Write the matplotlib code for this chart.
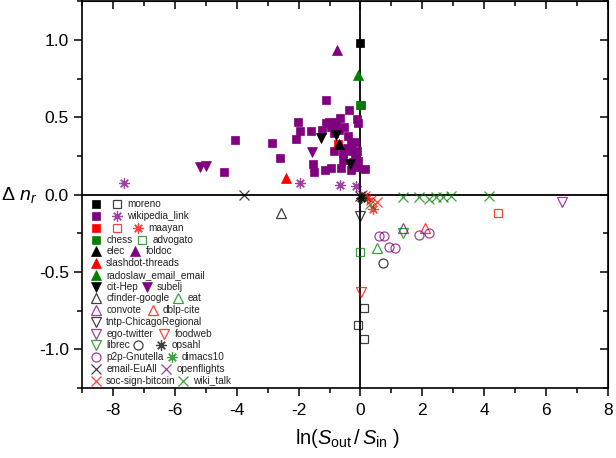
import matplotlib.pyplot as plt
from matplotlib.ticker import MultipleLocator

plt.rcParams['font.family'] = ['Liberation Sans', 'DejaVu Sans']
plt.rcParams['mathtext.fontset'] = 'custom'
plt.rcParams['mathtext.rm'] = 'Liberation Sans'
plt.rcParams['mathtext.it'] = 'Liberation Sans:italic'
plt.rcParams['axes.unicode_minus'] = False

BLACK = 'black'
PURPLE = '#800080'
RED = '#ff0000'
GREEN = '#008000'
ASTER = (8, 2, 0)

# values: x = ln(S_out / S_in), y = delta n_r
wiki_sq_x = [-4.05, -4.42, -2.87, -2.60, -2.03, -1.94, -2.07, -1.10, -1.53, -1.49,
             -1.16, -0.96, -1.60, -1.13, -0.95, -0.78, -0.65, -0.52, -0.38, -0.12,
             -0.07, 0.02, -0.84, -0.57, -0.30, -0.19, -0.30, -0.19, -0.10, -0.55,
             -0.25, -0.62, -0.30, -0.12, 0.15, -0.85, -1.25, -0.70, -0.45, -0.08,
             -0.40, -1.02, -0.88]
wiki_sq_y = [0.357, 0.145, 0.332, 0.239, 0.469, 0.413, 0.359, 0.616, 0.202, 0.146,
             0.161, 0.174, 0.411, 0.467, 0.439, 0.471, 0.499, 0.439, 0.551, 0.493,
             0.467, 0.579, 0.282, 0.267, 0.332, 0.342, 0.280, 0.260, 0.280, 0.224,
             0.213, 0.170, 0.159, 0.177, 0.164, 0.400, 0.420, 0.420, 0.300, 0.220,
             0.380, 0.470, 0.455]
wiki_ast_x = [-7.63, -1.94, -0.66, -0.16]
wiki_ast_y = [0.075, 0.078, 0.062, 0.056]

moreno_f_x, moreno_f_y = [0.0], [0.98]
moreno_o_x, moreno_o_y = [0.11, -0.09, 0.13], [-0.73, -0.845, -0.93]
maayan_f_x, maayan_f_y = [-0.73], [0.331]
maayan_o_x, maayan_o_y = [4.45], [-0.12]
maayan_ast_x, maayan_ast_y = [0.40, 0.22], [-0.09, -0.02]
chess_x, chess_y = [0.0], [0.583]
advogato_x, advogato_y = [0.0], [-0.368]
elec_x, elec_y = [-0.70], [0.327]
foldoc_x, foldoc_y = [-0.76], [0.938]
slashdot_x, slashdot_y = [-2.40], [0.106]
radoslaw_x, radoslaw_y = [-0.08], [0.772]
cithep_x, cithep_y = [-1.29, -0.78, -0.35], [0.364, 0.385, 0.196]
subelj_x, subelj_y = [-5.19, -4.98, -1.56], [0.181, 0.185, 0.278]
cfinder_x, cfinder_y = [-2.58], [-0.118]
eat_x, eat_y = [0.53], [-0.346]
convote_x, convote_y = [1.39], [-0.215]
dblp_x, dblp_y = [2.10], [-0.215]
tntp_x, tntp_y = [0.0], [-0.137]
egotw_x, egotw_y = [6.5], [-0.045]
foodweb_x, foodweb_y = [0.02], [-0.626]
librec_x, librec_y = [1.37], [-0.249]
opsahl_o_x, opsahl_o_y = [0.73], [-0.443]
opsahl_ast_x, opsahl_ast_y = [0.02], [-0.02]
p2p_x = [0.61, 0.77, 0.91, 1.10, 1.90, 2.23]
p2p_y = [-0.266, -0.266, -0.335, -0.346, -0.260, -0.245]
dimacs_x, dimacs_y = [0.05], [-0.015]
euall_x, euall_y = [-3.77, 0.0], [0.0, -0.01]
openfl_x, openfl_y = [0.05], [0.0]
bitcoin_x, bitcoin_y = [0.35, 0.52, 0.15], [-0.035, -0.045, -0.01]
wikitalk_x = [0.30, 1.37, 1.90, 2.20, 2.44, 2.68, 2.93, 4.16]
wikitalk_y = [-0.06, -0.017, -0.017, -0.03, -0.012, -0.012, -0.01, -0.005]

STYLE = {
    'sq_k': ('s', BLACK, True), 'sq_p': ('s', PURPLE, True), 'sq_r': ('s', RED, True),
    'sq_g': ('s', GREEN, True),
    'osq_k': ('s', BLACK, False), 'osq_r': ('s', RED, False), 'osq_g': ('s', GREEN, False),
    'up_k': ('^', BLACK, True), 'up_p': ('^', PURPLE, True), 'up_r': ('^', RED, True),
    'up_g': ('^', GREEN, True),
    'dn_k': ('v', BLACK, True), 'dn_p': ('v', PURPLE, True),
    'oup_k': ('^', BLACK, False), 'oup_g': ('^', GREEN, False), 'oup_p': ('^', PURPLE, False),
    'oup_r': ('^', RED, False),
    'odn_k': ('v', BLACK, False), 'odn_p': ('v', PURPLE, False), 'odn_r': ('v', RED, False),
    'odn_g': ('v', GREEN, False),
    'o_k': ('o', BLACK, False), 'o_p': ('o', PURPLE, False),
    'ast_k': (ASTER, BLACK, False), 'ast_p': (ASTER, PURPLE, False),
    'ast_r': (ASTER, RED, False), 'ast_g': (ASTER, GREEN, False),
    'x_k': ('x', BLACK, False), 'x_p': ('x', PURPLE, False), 'x_r': ('x', RED, False),
    'x_g': ('x', GREEN, False),
}


def mark(ax, x, y, key, legend=False):
    m, c, filled = STYLE[key]
    if m == 's':
        ms = 5.2 if legend else 6
    elif m == 'o':
        ms = 6.5
    else:
        ms = 7.5
    if filled:
        ax.plot(x, y, ls='none', marker=m, ms=ms, mfc=c, mec=c, mew=0.5, clip_on=False)
    else:
        ax.plot(x, y, ls='none', marker=m, ms=ms, mfc='none', mec=c, mew=0.9,
                alpha=0.75, clip_on=False)


fig = plt.figure(figsize=(6.16, 4.58), dpi=100)
ax = fig.add_axes([82 / 616, 1 - 388 / 458, 526 / 616, 386.5 / 458])
ax.set_xlim(-9, 8)
ax.set_ylim(-1.25, 1.25)
ax.axhline(0, color='black', lw=1.3, zorder=1)
ax.axvline(0, color='black', lw=1.3, zorder=1)

mark(ax, wiki_sq_x, wiki_sq_y, 'sq_p')
mark(ax, wiki_ast_x, wiki_ast_y, 'ast_p')
mark(ax, maayan_f_x, maayan_f_y, 'sq_r')
mark(ax, elec_x, elec_y, 'up_k')
mark(ax, cithep_x, cithep_y, 'dn_k')
mark(ax, subelj_x, subelj_y, 'dn_p')
mark(ax, chess_x, chess_y, 'sq_g')
mark(ax, radoslaw_x, radoslaw_y, 'up_g')
mark(ax, foldoc_x, foldoc_y, 'up_p')
mark(ax, slashdot_x, slashdot_y, 'up_r')
mark(ax, moreno_f_x, moreno_f_y, 'sq_k')
mark(ax, moreno_o_x, moreno_o_y, 'osq_k')
mark(ax, maayan_o_x, maayan_o_y, 'osq_r')
mark(ax, maayan_ast_x, maayan_ast_y, 'ast_r')
mark(ax, advogato_x, advogato_y, 'osq_g')
mark(ax, cfinder_x, cfinder_y, 'oup_k')
mark(ax, eat_x, eat_y, 'oup_g')
mark(ax, convote_x, convote_y, 'oup_p')
mark(ax, dblp_x, dblp_y, 'oup_r')
mark(ax, tntp_x, tntp_y, 'odn_k')
mark(ax, egotw_x, egotw_y, 'odn_p')
mark(ax, foodweb_x, foodweb_y, 'odn_r')
mark(ax, librec_x, librec_y, 'odn_g')
mark(ax, opsahl_o_x, opsahl_o_y, 'o_k')
mark(ax, p2p_x, p2p_y, 'o_p')
mark(ax, wikitalk_x, wikitalk_y, 'x_g')
mark(ax, bitcoin_x, bitcoin_y, 'x_r')
mark(ax, dimacs_x, dimacs_y, 'ast_g')
mark(ax, openfl_x, openfl_y, 'x_p')
mark(ax, euall_x, euall_y, 'x_k')
mark(ax, opsahl_ast_x, opsahl_ast_y, 'ast_k')

# hand-made Origin style legend (positions in data units)
legend_rows = [
    [('sq_k', -8.55), ('osq_k', -7.86), 'moreno'],
    [('sq_p', -8.55), ('ast_p', -7.86), 'wikipedia_link'],
    [('sq_r', -8.55), ('osq_r', -7.86), ('ast_r', -7.2), 'maayan'],
    [('sq_g', -8.55), 'chess', ('osq_g', -7.05), 'advogato'],
    [('up_k', -8.55), 'elec', ('up_p', -7.28), 'foldoc'],
    [('up_r', -8.55), 'slashdot-threads'],
    [('up_g', -8.55), 'radoslaw_email_email'],
    [('dn_k', -8.55), 'cit-Hep', ('dn_p', -6.91), 'subelj'],
    [('oup_k', -8.55), 'cfinder-google', ('oup_g', -5.91), 'eat'],
    [('oup_p', -8.55), 'convote', ('oup_r', -6.72), 'dblp-cite'],
    [('odn_k', -8.55), 'tntp-ChicagoRegional'],
    [('odn_p', -8.55), 'ego-twitter', ('odn_r', -6.34), 'foodweb'],
    [('odn_g', -8.55), 'librec', ('o_k', -7.18), ('ast_k', -6.44), 'opsahl'],
    [('o_p', -8.55), 'p2p-Gnutella', ('ast_g', -6.10), 'dimacs10'],
    [('x_k', -8.55), 'email-EuAll', ('x_p', -6.28), 'openflights'],
    [('x_r', -8.55), 'soc-sign-bitcoin', ('x_g', -5.74), 'wiki_talk'],
]
row0, dy = -0.063, 0.0759
for i, row in enumerate(legend_rows):
    y = row0 - i * dy
    last_x = -8.55
    for item in row:
        if isinstance(item, tuple):
            mark(ax, [item[1]], [y], item[0], legend=True)
            last_x = item[1]
        else:
            ax.text(last_x + 0.33, y, item, fontsize=7.2, va='center', ha='left',
                    color='#222222')

ax.xaxis.set_major_locator(MultipleLocator(2))
ax.xaxis.set_minor_locator(MultipleLocator(1))
ax.yaxis.set_major_locator(MultipleLocator(0.5))
ax.yaxis.set_minor_locator(MultipleLocator(0.25))
ax.yaxis.set_major_formatter(lambda v, p: f'{v:.1f}')
ax.tick_params(which='major', direction='out', length=6, width=1.1, labelsize=12.5)
ax.tick_params(which='minor', direction='out', length=3.5, width=1.1)
ax.tick_params(axis='x', pad=5)
for s in ax.spines.values():
    s.set_linewidth(1.2)

top = ax.secondary_xaxis('top')
top.xaxis.set_major_locator(MultipleLocator(2))
top.xaxis.set_minor_locator(MultipleLocator(1))
top.tick_params(which='both', direction='in', labeltop=False, width=1.1)
top.tick_params(which='major', length=6)
top.tick_params(which='minor', length=3.5)
right = ax.secondary_yaxis('right')
right.yaxis.set_major_locator(MultipleLocator(0.5))
right.yaxis.set_minor_locator(MultipleLocator(0.25))
right.tick_params(which='both', direction='in', labelright=False, width=1.1)
right.tick_params(which='major', length=6)
right.tick_params(which='minor', length=3.5)

ax.set_xlabel(r'ln$(S_{\mathrm{out}}\,/\,S_{\mathrm{in}}\ )$', fontsize=14.5, va='center')
ax.xaxis.set_label_coords(0.505, -0.13)
ax.set_ylabel(r'$\Delta\ n_r$', fontsize=14, rotation=0, ha='center', va='center')
ax.yaxis.set_label_coords(-0.12, 0.5)

fig.savefig('out.png', dpi=100)
